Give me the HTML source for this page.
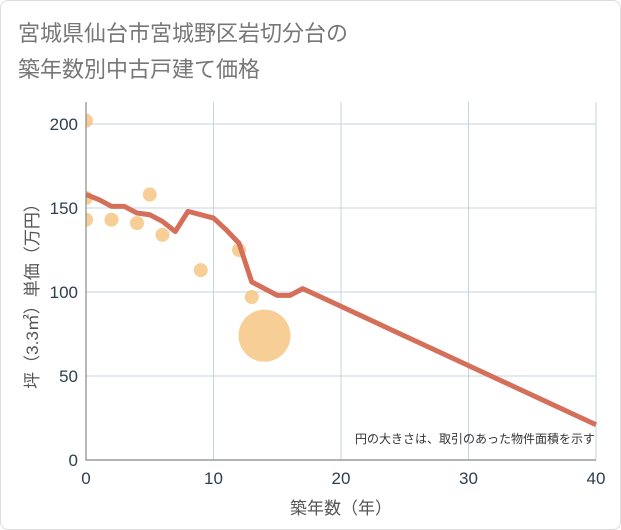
<!DOCTYPE html>
<html><head><meta charset="utf-8"><style>
body{margin:0;background:#fff;font-family:"Liberation Sans","Noto Sans CJK JP",sans-serif}
.card{position:absolute;left:0;top:0;width:619px;height:528px;border:1px solid #ddd;border-radius:8px;background:#fff}
</style></head><body>
<div class="card"></div>
<svg width="621" height="530" style="position:absolute;left:0;top:0">
<defs><clipPath id="pc"><rect x="86" y="102" width="510" height="358"/></clipPath></defs>
<text x="18" y="41" font-size="22" fill="#777">宮城県仙台市宮城野区岩切分台の</text>
<text x="18" y="77" font-size="22" fill="#777">築年数別中古戸建て価格</text>
<g id="grid"></g><g id="dots" clip-path="url(#pc)"></g><g id="line"></g><g id="axes"></g>
<text x="595" y="443" font-size="12" fill="#333" text-anchor="end">円の大きさは、取引のあった物件面積を示す</text>
<text x="341" y="514" font-size="17" fill="#555" text-anchor="middle">築年数（年）</text>
<text transform="translate(38,292) rotate(-90)" font-size="17" fill="#555" text-anchor="middle">坪（3.3㎡）単価（万円）</text>
</svg>
<script>
const xTicks=[0,10,20,30,40];
const yTicks=[0,50,100,150,200];
const dotAge=[0,0,0,2,4,5,6,9,12,13,14];
const dotPrice=[202,156,143,143,141,158,134,113,125,97,74];
const dotR=[7,7,7,7,7,7,7,7,7,7,26];
const lineAge=[0,1,2,3,4,5,6,7,8,9,10,11,12,13,14,15,16,17,40];
const linePrice=[158,155,151,151,147,146,142,136,148,146,144,137,129,106,102,98,98,102,21];
const X=v=>86+v*12.75, Y=v=>460-v*1.68;
const NS="http://www.w3.org/2000/svg";
function mk(t,p,a){const e=document.createElementNS(NS,t);for(const k in a)e.setAttribute(k,a[k]);document.getElementById(p).appendChild(e);return e;}
xTicks.forEach(t=>{const e=mk('line','grid',{x1:X(t),x2:X(t),y1:102,y2:460,stroke:'#c8d3e0'});


const l=mk('text','axes',{x:X(t),y:484,'font-size':17,fill:'#2c3e50','text-anchor':'middle'});l.textContent=t;

});
yTicks.forEach(t=>{const e=mk('line','grid',{x1:86,x2:596,y1:Y(t),y2:Y(t),stroke:'#c8d3e0'});


const l=mk('text','axes',{x:78,y:Y(t)+6,'font-size':17,fill:'#2c3e50','text-anchor':'end'});l.textContent=t;

});
const ax=mk('path','axes',{d:'M86 102V460H596',stroke:'#888',fill:'none','stroke-width':1.2});


dotAge.forEach((a,i)=>{const c=mk('circle','dots',{cx:X(a),cy:Y(dotPrice[i]),r:dotR[i],fill:'#f5c27a','fill-opacity':0.8});

});
const p=mk('polyline','line',{points:lineAge.map((a,i)=>X(a)+','+Y(linePrice[i])).join(' '),fill:'none',stroke:'#d4705a','stroke-width':5,'stroke-linejoin':'round'});


</script>
</body></html>
